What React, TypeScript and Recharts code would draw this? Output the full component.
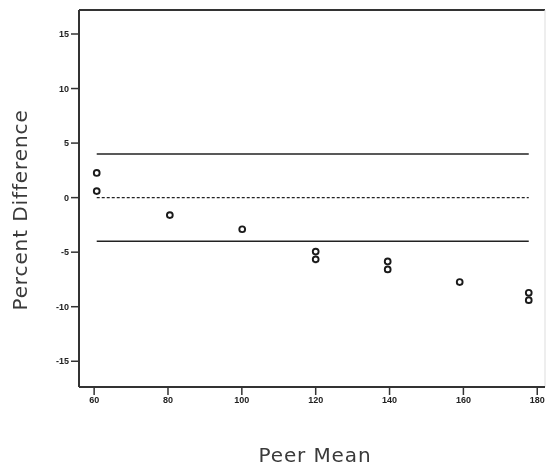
import { ScatterChart, Scatter, XAxis, YAxis, ReferenceLine } from 'recharts';

// peer mean (x) and percent difference (y) for each measured sample
const peerMean = [60.7, 60.7, 80.5, 100.1, 120, 120, 139.5, 139.5, 159, 177.7, 177.7];
const percentDiff = [2.26, 0.6, -1.6, -2.9, -4.95, -5.66, -5.85, -6.58, -7.74, -8.72, -9.4];

const xTicks = [60, 80, 100, 120, 140, 160, 180];
const yTicks = [-15, -10, -5, 0, 5, 10, 15];
const xDomain = [55.9, 182.1];
const yDomain = [-17.36, 17.2];

// limits of agreement and the zero line, drawn across the data range
const upperLimit = 4;
const lowerLimit = -4;
const lineStart = 60.7;
const lineEnd = 177.7;

const AXIS = '#333';
const tickStyle = { fontFamily: 'Liberation Sans, Arial, sans-serif', fontSize: 9, fontWeight: 700, fill: '#222' };
const titleStyle = {
    position: 'absolute' as const,
    whiteSpace: 'nowrap' as const,
    fontFamily: 'DejaVu Sans, sans-serif',
    fontSize: 20,
    letterSpacing: 0.9,
    color: '#3a3a3a',
};

const Marker = (props: any) => {
    const { cx, cy } = props;
    return <circle cx={cx} cy={cy} r={2.9} fill="#fff" stroke="#1a1a1a" strokeWidth={1.9} />;
};

export default function App() {
    const data = peerMean.map((x, i) => ({ x, y: percentDiff[i] }));

    return (
        // fixed so nothing adds page overflow / scrollbars
        <div style={{ position: 'fixed', left: 8, top: 8, width: 538, height: 458 }}>
            <ScatterChart width={538} height={458} margin={{ top: 2, right: 1, bottom: 0, left: 0 }}>
                <XAxis
                    dataKey="x"
                    type="number"
                    domain={xDomain}
                    ticks={xTicks}
                    tickSize={8}
                    height={79}
                    allowDataOverflow
                    axisLine={{ stroke: AXIS, strokeWidth: 2 }}
                    tickLine={{ stroke: AXIS, strokeWidth: 1.5 }}
                    tick={tickStyle}
                />
                <YAxis
                    dataKey="y"
                    type="number"
                    domain={yDomain}
                    ticks={yTicks}
                    tickSize={8}
                    width={71}
                    allowDataOverflow
                    axisLine={{ stroke: AXIS, strokeWidth: 2 }}
                    tickLine={{ stroke: AXIS, strokeWidth: 1.5 }}
                    tick={tickStyle}
                />
                {/* frame: top edge and faint right edge */}
                <ReferenceLine y={yDomain[1]} stroke={AXIS} strokeWidth={2} ifOverflow="visible" />
                <ReferenceLine x={xDomain[1]} stroke="#ddd" strokeWidth={1} ifOverflow="visible" />
                <ReferenceLine
                    segment={[{ x: lineStart, y: upperLimit }, { x: lineEnd, y: upperLimit }]}
                    stroke="#222"
                    strokeWidth={1.6}
                />
                <ReferenceLine
                    segment={[{ x: lineStart, y: 0 }, { x: lineEnd, y: 0 }]}
                    stroke="#222"
                    strokeWidth={1.4}
                    strokeDasharray="3 2"
                />
                <ReferenceLine
                    segment={[{ x: lineStart, y: lowerLimit }, { x: lineEnd, y: lowerLimit }]}
                    stroke="#222"
                    strokeWidth={1.6}
                />
                <Scatter data={data} shape={<Marker />} isAnimationActive={false} />
            </ScatterChart>

            {/* axis titles */}
            <div style={{ ...titleStyle, left: 12, top: 202, transform: 'translate(-50%, -50%) rotate(-90deg)' }}>
                Percent Difference
            </div>
            <div style={{ ...titleStyle, left: 307, top: 435, transform: 'translateX(-50%)' }}>
                Peer Mean
            </div>
        </div>
    );
}
